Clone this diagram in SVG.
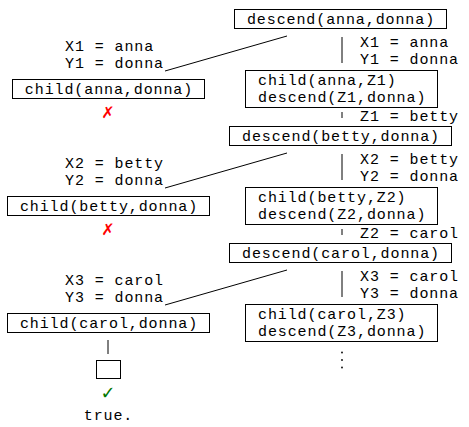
<svg xmlns="http://www.w3.org/2000/svg" width="469" height="427" viewBox="0 0 469 427">
<style>
.t{font-family:"Liberation Mono","DejaVu Sans Mono",monospace;font-size:15px;letter-spacing:0.9px;fill:#000}
.c{text-anchor:middle}
.b{fill:#fff;stroke:#000;stroke-width:1}
.l{stroke:#000;stroke-width:1;fill:none}
.x{font-family:"DejaVu Sans",sans-serif;font-size:16px;fill:#f00;text-anchor:middle}
.ok{font-family:"DejaVu Sans",sans-serif;font-size:18px;fill:#070;text-anchor:middle}
</style>
<rect width="469" height="427" fill="#fff"/>
<g id="connectors">
<line class="l" x1="287" y1="36" x2="165" y2="71"/>
<line class="l" x1="342" y1="37" x2="342" y2="63"/>
<line class="l" x1="342" y1="112" x2="342" y2="118"/>
<line class="l" x1="287" y1="153" x2="165" y2="188"/>
<line class="l" x1="342" y1="154" x2="342" y2="180"/>
<line class="l" x1="342" y1="229" x2="342" y2="235"/>
<line class="l" x1="287" y1="270" x2="165" y2="305"/>
<line class="l" x1="342" y1="271" x2="342" y2="297"/>
<line class="l" x1="108" y1="340" x2="108" y2="354"/>
</g>
<g id="descend1"><rect class="b" x="234.5" y="9.5" width="212" height="19"/><text class="t c" x="341" y="24">descend(anna,donna)</text></g>
<g id="sub1r"><text class="t" x="360" y="47">X1 = anna<tspan x="360" dy="17">Y1 = donna</tspan></text></g>
<g id="goal1"><rect class="b" x="245.5" y="70.5" width="192" height="37"/><text class="t" x="258" y="85">child(anna,Z1)<tspan x="258" dy="17">descend(Z1,donna)</tspan></text></g>
<g id="z1"><text class="t" x="360" y="121">Z1 = betty</text></g>
<g id="sub1l"><text class="t" x="65" y="51">X1 = anna<tspan x="65" dy="17">Y1 = donna</tspan></text></g>
<g id="child1"><rect class="b" x="12.5" y="79.5" width="192" height="19"/><text class="t c" x="109" y="94">child(anna,donna)</text></g>
<g id="fail1"><text class="x" x="108" y="118">✗</text></g>

<g id="descend2"><rect class="b" x="229.5" y="126.5" width="222" height="19"/><text class="t c" x="341" y="141">descend(betty,donna)</text></g>
<g id="sub2r"><text class="t" x="360" y="164">X2 = betty<tspan x="360" dy="17">Y2 = donna</tspan></text></g>
<g id="goal2"><rect class="b" x="245.5" y="187.5" width="192" height="37"/><text class="t" x="258" y="202">child(betty,Z2)<tspan x="258" dy="17">descend(Z2,donna)</tspan></text></g>
<g id="z2"><text class="t" x="360" y="238">Z2 = carol</text></g>
<g id="sub2l"><text class="t" x="65" y="168">X2 = betty<tspan x="65" dy="17">Y2 = donna</tspan></text></g>
<g id="child2"><rect class="b" x="7.5" y="196.5" width="202" height="19"/><text class="t c" x="109" y="211">child(betty,donna)</text></g>
<g id="fail2"><text class="x" x="108" y="235">✗</text></g>

<g id="descend3"><rect class="b" x="229.5" y="243.5" width="222" height="19"/><text class="t c" x="341" y="258">descend(carol,donna)</text></g>
<g id="sub3r"><text class="t" x="360" y="281">X3 = carol<tspan x="360" dy="17">Y3 = donna</tspan></text></g>
<g id="goal3"><rect class="b" x="245.5" y="304.5" width="192" height="37"/><text class="t" x="258" y="319">child(carol,Z3)<tspan x="258" dy="17">descend(Z3,donna)</tspan></text></g>
<g id="dots"><circle cx="342" cy="352.5" r="0.9" fill="#000"/><circle cx="342" cy="360" r="0.9" fill="#000"/><circle cx="342" cy="367.5" r="0.9" fill="#000"/></g>
<g id="sub3l"><text class="t" x="65" y="285">X3 = carol<tspan x="65" dy="17">Y3 = donna</tspan></text></g>
<g id="child3"><rect class="b" x="7.5" y="313.5" width="202" height="19"/><text class="t c" x="109" y="328">child(carol,donna)</text></g>
<g id="empty"><rect class="b" x="96.5" y="360.5" width="24" height="18"/></g>
<g id="success"><text class="ok" x="108" y="399">✓</text></g>
<g id="result"><text class="t c" x="108.5" y="420">true.</text></g>
</svg>
